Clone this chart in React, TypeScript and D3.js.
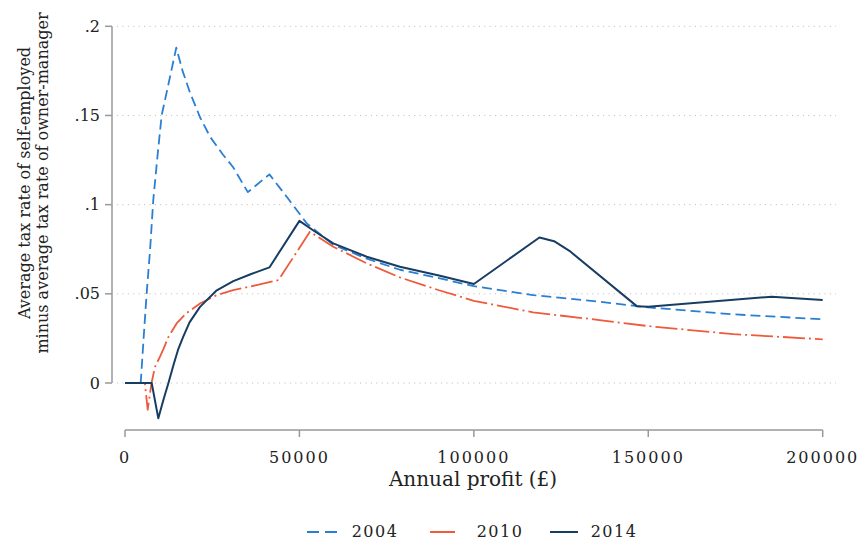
import React from "react";
import * as d3 from "d3";

const xTicks = [0, 50000, 100000, 150000, 200000];
const yTicks = [0, 0.05, 0.1, 0.15, 0.2];
const yTickLabels = ["0", ".05", ".1", ".15", ".2"];

const x2004 = [0, 4500, 5400, 6200, 7200, 8100, 9300, 10500, 12500, 14700, 16500, 18600, 21500, 24400, 28100, 31000, 35200, 41400, 46350, 52100, 59700, 69300, 78800, 90000, 100000, 117000, 136200, 150000, 174400, 200000];
const y2004 = [0, 0, 0.027, 0.05, 0.075, 0.1025, 0.127, 0.15, 0.168, 0.188, 0.175, 0.163, 0.149, 0.138, 0.128, 0.121, 0.107, 0.117, 0.1044, 0.0895, 0.0775, 0.0697, 0.0635, 0.0588, 0.0543, 0.0493, 0.0455, 0.0424, 0.0385, 0.0357];

const x2010 = [0, 5700, 6500, 7600, 8600, 10000, 11000, 12500, 14800, 17500, 21500, 26000, 31000, 38000, 44000, 53000, 59700, 69300, 78800, 90000, 100000, 117000, 136000, 150000, 174400, 200000];
const y2010 = [0, 0, -0.015, 0, 0.009, 0.0147, 0.019, 0.026, 0.0334, 0.039, 0.0446, 0.049, 0.0521, 0.055, 0.0577, 0.0848, 0.0764, 0.0671, 0.0592, 0.052, 0.0461, 0.0396, 0.0353, 0.0319, 0.0274, 0.0245];

const x2014 = [0, 7650, 9550, 11000, 12450, 14000, 15300, 16700, 18500, 21500, 26300, 31050, 36000, 41400, 50000, 54000, 59700, 69300, 78800, 90000, 100000, 118800, 123000, 127400, 146700, 150000, 185400, 200000];
const y2014 = [0, 0, -0.0198, -0.0095, 0, 0.0108, 0.0192, 0.026, 0.034, 0.0427, 0.052, 0.0571, 0.061, 0.0648, 0.0909, 0.0855, 0.0783, 0.0708, 0.0652, 0.0603, 0.0555, 0.0816, 0.0795, 0.0741, 0.0431, 0.0428, 0.0484, 0.0465];

const seriesNames = ["2004", "2010", "2014"];

const FONT = "'DejaVu Serif', serif";

export default function App() {
  const W = 859, H = 542;
  const x = d3.scaleLinear().domain([0, 200000]).range([125, 822.7]);
  const y = d3.scaleLinear().domain([0, 0.2]).range([383, 26.3]);
  const line = d3.line<[number, number]>().x(d => x(d[0])).y(d => y(d[1]));

  const series = [
    { name: seriesNames[0], xs: x2004, ys: y2004, color: "#2a7fd5", dash: "10 5", width: 1.8 },
    { name: seriesNames[1], xs: x2010, ys: y2010, color: "#ee5a3c", dash: "22 4 2 4", width: 1.8 },
    { name: seriesNames[2], xs: x2014, ys: y2014, color: "#183d63", dash: "none", width: 2 },
  ];

  const legendPos = [
    { lx1: 307, lx2: 337, tc: 375, dash: "12 6" },
    { lx1: 430, lx2: 455, tc: 500, dash: "none" },
    { lx1: 550, lx2: 578, tc: 614, dash: "none" },
  ];

  return (
    <svg width={W} height={H} style={{ position: "absolute", left: 0, top: 0, background: "#fff" }}>
      <rect width={W} height={H} fill="#fff" />
      {yTicks.map((t, i) => (
        <line key={"g" + i} x1={117} x2={836} y1={y(t)} y2={y(t)} stroke="#c4c4c4" strokeWidth={1} strokeDasharray="1.2 4.2" />
      ))}
      <line x1={112} x2={112} y1={y(0.2)} y2={y(0)} stroke="#999" strokeWidth={1.5} />
      {yTicks.map((t, i) => (
        <g key={"yt" + i}>
          <line x1={105} x2={112} y1={y(t)} y2={y(t)} stroke="#999" strokeWidth={1.5} />
          <text x={100} y={y(t)} dy="0.35em" textAnchor="end" fontFamily={FONT} fontSize={16} fill="#222">{yTickLabels[i]}</text>
        </g>
      ))}
      <line x1={x(0)} x2={x(200000)} y1={430} y2={430} stroke="#999" strokeWidth={1.5} />
      {xTicks.map((t, i) => (
        <g key={"xt" + i}>
          <line x1={x(t)} x2={x(t)} y1={430} y2={437} stroke="#999" strokeWidth={1.5} />
          <text x={x(t)} y={463} textAnchor="middle" fontFamily={FONT} fontSize={16} letterSpacing={2} fill="#222">{String(t)}</text>
        </g>
      ))}
      <text x={473} y={486} textAnchor="middle" fontFamily={FONT} fontSize={20} fill="#222">Annual profit (£)</text>
      <g transform="translate(30,183) rotate(-90)">
        <text x={0} y={0} textAnchor="middle" fontFamily={FONT} fontSize={16} fill="#222">Average tax rate of self-employed</text>
      </g>
      <g transform="translate(48,183) rotate(-90)">
        <text x={0} y={0} textAnchor="middle" fontFamily={FONT} fontSize={16} fill="#222">minus average tax rate of owner-manager</text>
      </g>
      {series.map((s, i) => (
        <path key={"s" + i} d={line(s.xs.map((v, j) => [v, s.ys[j]] as [number, number])) || ""} fill="none" stroke={s.color} strokeWidth={s.width} strokeDasharray={s.dash} strokeLinejoin="round" />
      ))}
      {series.map((s, i) => (
        <g key={"l" + i}>
          <line x1={legendPos[i].lx1} x2={legendPos[i].lx2} y1={532} y2={532} stroke={s.color} strokeWidth={2} strokeDasharray={legendPos[i].dash} />
          <text x={legendPos[i].tc} y={537} textAnchor="middle" fontFamily={FONT} fontSize={16} letterSpacing={1.5} fill="#222">{s.name}</text>
        </g>
      ))}
    </svg>
  );
}
